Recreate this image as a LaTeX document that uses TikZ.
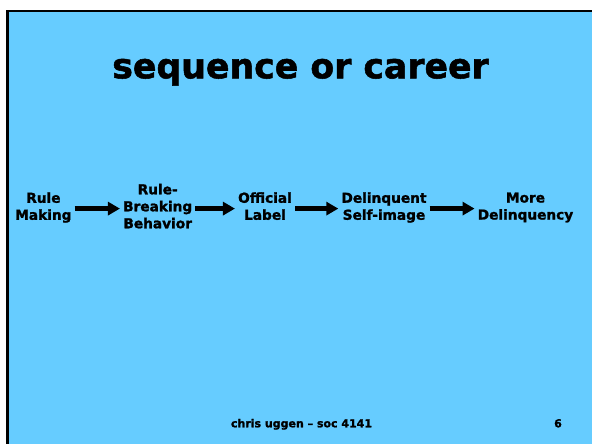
\documentclass[tikz,border=0pt]{standalone}
\usepackage{fontspec}
\setmainfont{DejaVu Sans}[BoldFeatures={FakeBold=1.5}]
\usetikzlibrary{arrows.meta}
\definecolor{slideblue}{HTML}{66CCFF}
\begin{document}
\begin{tikzpicture}[x=1pt, y=-1pt,
  stepbox/.style={align=center, inner xsep=3pt, inner ysep=0pt,
    font=\fontsize{13.7}{17}\selectfont\bfseries,
    execute at begin node=\strut, execute at end node=\strut},
  flow/.style={line width=5.5pt, -{Triangle[length=12pt,width=13pt]}}]
\useasboundingbox (0,0) rectangle (592,444);
\fill[white] (0,0) rectangle (592,444);
\fill[slideblue] (7.5,11) rectangle (592,444);
\draw[line width=2.5pt] (7.5,444) -- (7.5,11) -- (592,11);

\node[anchor=base, font=\fontsize{34.7}{40}\selectfont\bfseries] (title) at (300.5, 78.3) {sequence or career};

\node[stepbox] (making) at (43.4, 208.6) {Rule\\Making};
\node[stepbox] (breaking) at (157.7, 208.6) {Rule-\\Breaking\\Behavior};
\node[stepbox] (label) at (265, 208.6) {Official\\Label};
\node[stepbox] (selfimage) at (384, 208.6) {Delinquent\\Self-image};
\node[stepbox] (more) at (525.5, 208.6) {More\\Delinquency};

\draw[flow] (making) -- (breaking);
\draw[flow] (breaking) -- (label);
\draw[flow] (label) -- (selfimage);
\draw[flow] (selfimage) -- (more);

\node[anchor=base, font=\fontsize{11}{13}\selectfont\bfseries] (footer) at (301.5, 427.3) {chris uggen -- soc 4141};
\node[anchor=base, font=\fontsize{11}{13}\selectfont\bfseries] (page) at (558, 427.3) {6};
\end{tikzpicture}
\end{document}
